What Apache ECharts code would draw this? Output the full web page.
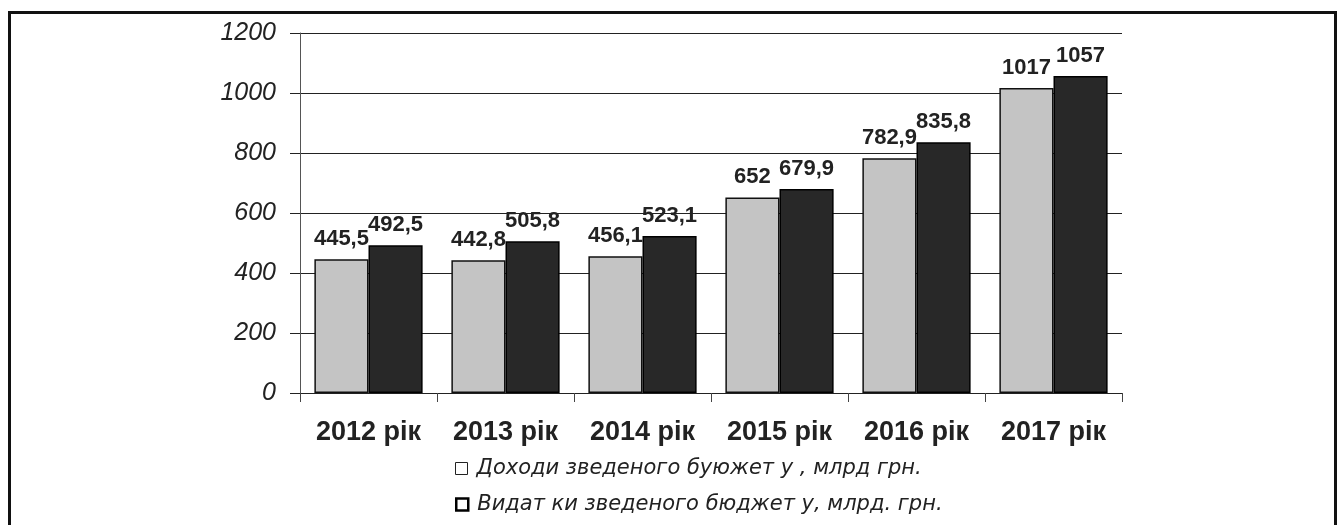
<!DOCTYPE html>
<html>
<head>
<meta charset="utf-8">
<script src="https://cdn.jsdelivr.net/npm/echarts@6/dist/echarts.min.js"></script>
<style>
  html, body { margin: 0; padding: 0; background: #fff; }
  #chart { width: 1338px; height: 525px; }
</style>
</head>
<body>
<div id="chart"></div>
<script>
// chart data
var years = ['2012 рік', '2013 рік', '2014 рік', '2015 рік', '2016 рік', '2017 рік'];
var incomes = [445.5, 442.8, 456.1, 652, 782.9, 1017];
var expenses = [492.5, 505.8, 523.1, 679.9, 835.8, 1057];
var seriesNames = ['Доходи зведеного буюжет у , млрд грн.', 'Видат ки зведеного бюджет у, млрд. грн.'];

function fmt(v) {
    return String(v).replace('.', ',');
}

var myChart = echarts.init(document.getElementById('chart'));

var labelStyle = {
    show: true,
    position: 'top',
    distance: 9,
    fontFamily: 'Liberation Sans',
    fontWeight: 'bold',
    fontSize: 22,
    color: '#222',
    formatter: function (p) { return fmt(p.value); }
};

var legendText = {
    fontFamily: 'DejaVu Sans',
    fontStyle: 'italic',
    fontSize: 21,
    color: '#222',
    padding: [0, 0, 0, 4]
};

var option = {
    animation: false,
    backgroundColor: '#fff',
    graphic: [{
        type: 'rect',
        shape: { x: 9.5, y: 12.5, width: 1326, height: 520 },
        style: { fill: 'none', stroke: '#111', lineWidth: 3 },
        silent: true
    }],
    grid: { left: 300, right: 216, top: 33, bottom: 132 },
    // two legends, one item each, stacked
    legend: [{
        left: 450,
        top: 453,
        itemWidth: 12,
        itemHeight: 12,
        icon: 'rect',
        textStyle: legendText,
        data: [{ name: seriesNames[0], itemStyle: { color: '#fff', borderColor: '#222', borderWidth: 1 } }]
    }, {
        left: 450,
        top: 489,
        itemWidth: 12,
        itemHeight: 12,
        icon: 'rect',
        textStyle: legendText,
        data: [{ name: seriesNames[1], itemStyle: { color: '#fff', borderColor: '#000', borderWidth: 2.5 } }]
    }],
    xAxis: {
        type: 'category',
        data: years,
        axisLine: { lineStyle: { color: '#222', width: 1 } },
        axisTick: { show: true, length: 9, lineStyle: { color: '#444' } },
        axisLabel: {
            margin: 26,
            fontFamily: 'Liberation Sans',
            fontWeight: 'bold',
            fontSize: 27,
            color: '#222'
        }
    },
    yAxis: {
        type: 'value',
        min: 0,
        max: 1200,
        interval: 200,
        axisLine: { show: true, lineStyle: { color: '#555', width: 1 } },
        axisTick: { show: true, length: 10, lineStyle: { color: '#222' } },
        splitLine: { lineStyle: { color: '#222', width: 1 } },
        axisLabel: {
            margin: 24,
            fontFamily: 'Liberation Sans',
            fontStyle: 'italic',
            fontSize: 25,
            color: '#222',
            formatter: function (v) { return String(v); }
        }
    },
    series: [
        {
            name: seriesNames[0],
            type: 'bar',
            data: incomes,
            barGap: '0%',
            barCategoryGap: '21%',
            itemStyle: { color: '#c4c4c4', borderColor: '#111', borderWidth: 1.5 },
            label: labelStyle
        },
        {
            name: seriesNames[1],
            type: 'bar',
            data: expenses,
            itemStyle: { color: '#282828', borderColor: '#000', borderWidth: 1.5 },
            label: labelStyle
        }
    ]
};

myChart.setOption(option);
</script>
</body>
</html>
